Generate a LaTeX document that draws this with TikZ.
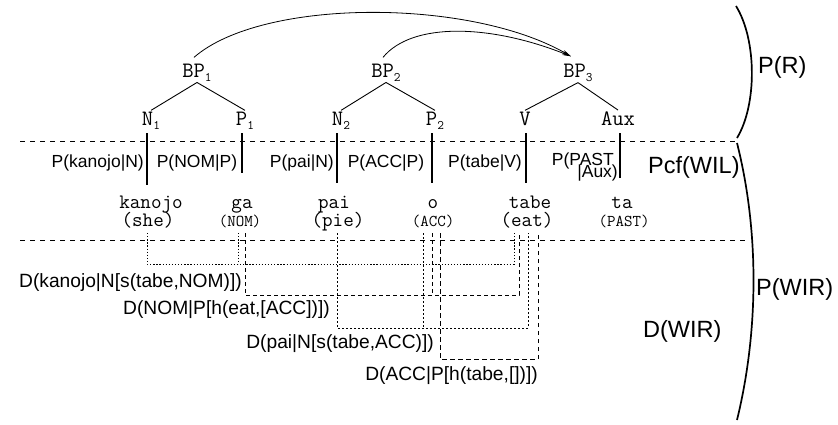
\documentclass[tikz,border=0pt]{standalone}
\usepackage{fontspec}
\setmainfont{Liberation Sans}
\usetikzlibrary{arrows.meta}
\newcommand{\lsub}[1]{\raisebox{-0.45ex}{\fontsize{13}{13}\selectfont #1}}

\begin{document}
\begin{tikzpicture}[x=1pt,y=-1pt,
  tree/.style={font=\ttfamily\fontsize{22}{22}\selectfont, anchor=base, inner sep=1pt},
  word/.style={font=\ttfamily\fontsize{20.5}{20.5}\selectfont, anchor=base, inner sep=0pt},
  gloss/.style={font=\ttfamily\fontsize{16.5}{16.5}\selectfont, anchor=base, inner sep=0pt},
  plab/.style={font=\fontsize{17.5}{17.5}\selectfont, anchor=base, inner sep=0pt},
  dlab/.style={font=\fontsize{19.2}{19.2}\selectfont, anchor=base east, inner sep=0pt},
  biglab/.style={font=\fontsize{23.5}{23.5}\selectfont, anchor=base west, inner sep=0pt},
  branch/.style={line width=0.9pt},
  mov/.style={line width=0.8pt, -{Stealth[length=9pt,width=4pt]}},
  rulebar/.style={line width=0.8pt, dash pattern=on 5pt off 5pt},
  tickbar/.style={line width=1.2pt},
  brace/.style={line width=1.7pt},
  relA/.style={line width=0.9pt, dash pattern=on 1.3pt off 1.8pt},
  relB/.style={line width=0.9pt, dash pattern=on 4pt off 3pt},
  relC/.style={line width=0.9pt, dash pattern=on 2pt off 2pt},
  relD/.style={line width=0.9pt, dash pattern=on 4.5pt off 3.5pt}]
\useasboundingbox (0,0) rectangle (838,424);
\fill[white] (0,0) rectangle (838,424);

% phrase structure
\node[tree] (bp1) at (197,77) {BP\lsub{1}};
\node[tree] (bp2) at (386,77) {BP\lsub{2}};
\node[tree] (bp3) at (578,77) {BP\lsub{3}};
\node[tree] (n1) at (151,125) {N\lsub{1}};
\node[tree] (p1) at (245,125) {P\lsub{1}};
\node[tree] (n2) at (341,125) {N\lsub{2}};
\node[tree] (p2) at (435,125) {P\lsub{2}};
\node[tree] (v)  at (525,125) {V};
\node[tree] (aux) at (618,125) {Aux};
\draw[branch] (bp1.south) -- (n1.north);
\draw[branch] (bp1.south) -- (p1.north);
\draw[branch] (bp2.south) -- (n2.north);
\draw[branch] (bp2.south) -- (p2.north);
\draw[branch] (bp3.south) -- (v.north);
\draw[branch] (bp3.south) -- (aux.north);

% dependency arcs to the verb phrase
\draw[mov] ([xshift=-3pt,yshift=5pt]bp1.north) .. controls (262,-2) and (470,-2) .. ([xshift=-7pt,yshift=6pt]bp3.north);
\draw[mov] ([xshift=-3pt,yshift=5pt]bp2.north) .. controls (412,22) and (490,24) .. ([xshift=-7pt,yshift=6pt]bp3.north);

% level rules
\draw[rulebar] (20,141) -- (735,141);
\draw[rulebar] (20,240) -- (748,240);

% word boundaries
\draw[tickbar] (147,133) -- (147,185);
\draw[tickbar] (242,133) -- (242,173);
\draw[tickbar] (337,133) -- (337,183);
\draw[tickbar] (432,133) -- (432,183);
\draw[tickbar] (526,133) -- (526,183);
\draw[tickbar] (620,133) -- (620,178);

% lexical entries
\node[plab, anchor=base east] (lk) at (144,167) {P(kanojo|N)};
\node[plab] (ln) at (197,167) {P(NOM|P)};
\node[plab, anchor=base east] (lp) at (334,167) {P(pai|N)};
\node[plab] (la) at (386,167) {P(ACC|P)};
\node[plab] (lt) at (485,167) {P(tabe|V)};
\node[plab, anchor=base east] (lpa) at (614,165) {P(PAST};
\node[plab, anchor=base east] (lpb) at (618,177) {|Aux)};

% words and glosses
\node[word] (w1) at (151,208) {kanojo};
\node[word] (w2) at (242,208) {ga};
\node[word] (w3) at (334,208) {pai};
\node[word] (w4) at (433,208) {o};
\node[word] (w5) at (530,208) {tabe};
\node[word] (w6) at (622,208) {ta};
\node[word] (g1) at (148,226) {(she)};
\node[gloss] (g2) at (240,226) {(NOM)};
\node[word] (g3) at (338,226) {(pie)};
\node[gloss] (g4) at (433,226) {(ACC)};
\node[word] (g5) at (527,226) {(eat)};
\node[gloss] (g6) at (624,226) {(PAST)};

% dependency frames
\coordinate (s1) at (147,233); \coordinate (e1) at (514,233); \coordinate (m1) at (238,233);
\coordinate (s2) at (245,233); \coordinate (e2) at (519,233); \coordinate (m2) at (432,233);
\coordinate (s3) at (337,233); \coordinate (e3) at (528,233); \coordinate (m3) at (423,233);
\coordinate (s4) at (440,233); \coordinate (e4) at (538,233);
\draw[relA] (s1) -- ++(0,31) -| (e1);
\draw[relA] (m1) -- ++(0,31);
\draw[relB] (s2) -- ++(0,62) -| (e2);
\draw[relB] (m2) -- ++(0,62);
\draw[relC] (s3) -- ++(0,95) -| (e3);
\draw[relC] (m3) -- ++(0,95);
\draw[relD] (s4) -- ++(0,126) -| (e4);

\node[dlab] (d1) at (242,287) {D(kanojo|N[s(tabe,NOM)])};
\node[dlab] (d2) at (330,314) {D(NOM|P[h(eat,[ACC])])};
\node[dlab] (d3) at (434,348) {D(pai|N[s(tabe,ACC)])};
\node[dlab] (d4) at (538,380) {D(ACC|P[h(tabe,[])])};

% level brackets
\draw[brace] (736,6) .. controls (757,40) and (757,105) .. (737,138);
\draw[brace] (737,143) .. controls (759,230) and (759,330) .. (737,420);
\node[biglab] (pr) at (758,73) {P(R)};
\node[biglab] (pcf) at (648,173) {Pcf(WIL)};
\node[biglab] (pwir) at (756,295) {P(WIR)};
\node[biglab] (dwir) at (643,337) {D(WIR)};
\end{tikzpicture}
\end{document}
